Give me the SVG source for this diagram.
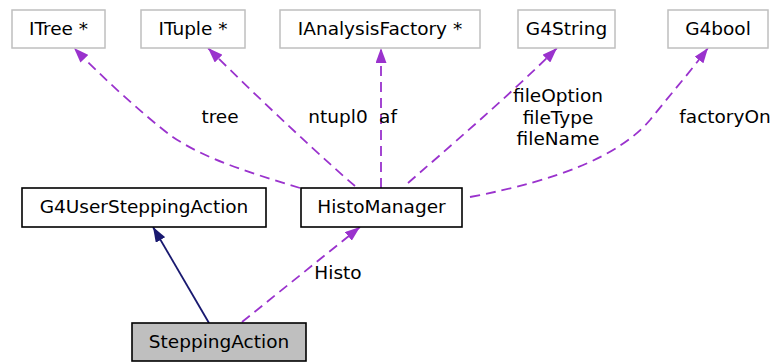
<svg xmlns="http://www.w3.org/2000/svg" width="780" height="362" viewBox="0 0 780 362">
<defs>
<style>
text{font-family:"DejaVu Sans","Liberation Sans",sans-serif;font-size:18.5px;fill:#000;text-anchor:middle}
.ext{fill:#fff;stroke:#bfbfbf;stroke-width:1.5}
.cls{fill:#fff;stroke:#000;stroke-width:1.6}
.cur{fill:#bfbfbf;stroke:#000;stroke-width:1.6}
.use{fill:none;stroke:#9a32cd;stroke-width:1.8;stroke-dasharray:10,6}
.inh{fill:none;stroke:#191970;stroke-width:1.8}
</style>
<marker id="ap" viewBox="0 0 15 11" refX="15" refY="5.5" markerWidth="15" markerHeight="11" markerUnits="userSpaceOnUse" orient="auto">
<polygon points="0,0 15,5.5 0,11" fill="#9a32cd"/>
</marker>
<marker id="an" viewBox="0 0 15 11" refX="15" refY="5.5" markerWidth="15" markerHeight="11" markerUnits="userSpaceOnUse" orient="auto">
<polygon points="0,0 15,5.5 0,11" fill="#191970"/>
</marker>
</defs>
<rect width="780" height="362" fill="#fff"/>
<g id="connectors">
<path class="use" d="M300,188 C255,174 205,160 170,135 C140,112 100,75 74,48" marker-end="url(#ap)"/>
<path class="use" d="M355,186 C330,165 260,100 208,48" marker-end="url(#ap)"/>
<path class="use" d="M381,188 L381,48" marker-end="url(#ap)"/>
<path class="use" d="M408,183 C440,155 510,95 557,48" marker-end="url(#ap)"/>
<path class="use" d="M470,197 C560,180 620,155 650,120 C670,95 690,72 708,48" marker-end="url(#ap)"/>
<path class="use" d="M242,322 L360,227" marker-end="url(#ap)"/>
<path class="inh" d="M209,323 L153,227" marker-end="url(#an)"/>
<text x="220" y="123">tree</text>
<text x="338" y="123">ntupl0</text>
<text x="388" y="123">af</text>
<text x="558" y="102">fileOption</text>
<text x="558" y="123.5">fileType</text>
<text x="558" y="145">fileName</text>
<text x="725" y="123">factoryOn</text>
<text x="338" y="279">Histo</text>
</g>
<g id="ITree"><rect class="ext" x="12" y="10" width="93" height="38"/><text x="58.5" y="35">ITree *</text></g>
<g id="ITuple"><rect class="ext" x="141" y="10" width="104" height="38"/><text x="193" y="35">ITuple *</text></g>
<g id="IAnalysisFactory"><rect class="ext" x="280" y="10" width="200" height="38"/><text x="380" y="35">IAnalysisFactory *</text></g>
<g id="G4String"><rect class="ext" x="518" y="10" width="97" height="38"/><text x="566.5" y="35">G4String</text></g>
<g id="G4bool"><rect class="ext" x="668" y="10" width="100" height="38"/><text x="718" y="35">G4bool</text></g>
<g id="G4UserSteppingAction"><rect class="cls" x="22" y="188" width="244" height="39"/><text x="144" y="213">G4UserSteppingAction</text></g>
<g id="HistoManager"><rect class="cls" x="301" y="188" width="161" height="39"/><text x="381.5" y="213">HistoManager</text></g>
<g id="SteppingAction"><rect class="cur" x="132" y="323" width="174" height="38"/><text x="219" y="348">SteppingAction</text></g>
</svg>
